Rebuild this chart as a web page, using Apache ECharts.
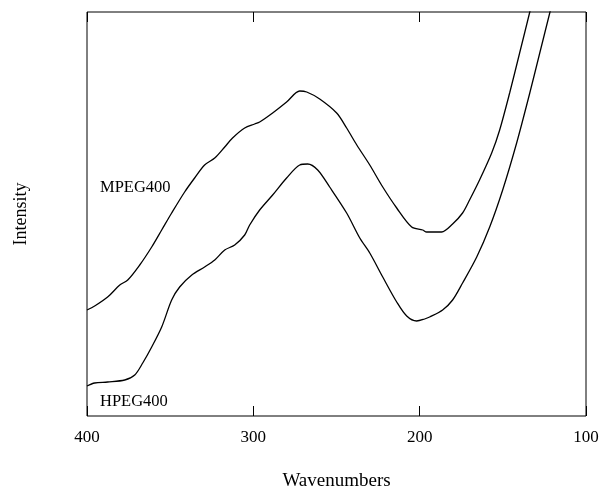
<!DOCTYPE html>
<html>
<head>
<meta charset="utf-8">
<script src="https://cdn.jsdelivr.net/npm/echarts@6/dist/echarts.min.js"></script>
<style>
  html, body { margin: 0; padding: 0; background: #fff; }
  #chart { width: 604px; height: 491px; }
</style>
</head>
<body>
<div id="chart"></div>
<script>
// wavenumber ticks (axis runs from 400 on the left to 100 on the right)
var xTicks = [400, 300, 200, 100];

// MPEG400 spectrum: [wavenumber, intensity (arbitrary units)]
var mpegWave = [400, 395.4, 387.6, 380.3, 375.5, 368.3, 361.1, 355.1, 349.1, 341.3, 335.3, 329.3, 323.2, 317.2, 312.5, 305.2, 299.2, 296.2, 288.4, 280.0, 272.1, 267.9, 260.1, 249.9, 243.9, 237.8, 230.0, 222.2, 213.8, 204.8, 198.2, 195.8, 186.8, 180.2, 174.2, 170.0, 164.0, 156.7, 151.9, 145.9, 139.9, 133.8, 127.8];
var mpegInt = [106, 110, 119, 131, 136, 151, 169, 186, 203, 224, 238, 251, 258, 269, 278, 288, 292, 294, 303, 314, 325, 324, 317, 303, 288, 271, 251, 229, 208, 189, 186, 184, 184, 192, 203, 216, 236, 263, 286, 323, 363, 404, 446];

// HPEG400 spectrum
var hpegWave = [400, 395.4, 387.6, 377.3, 371.3, 366.5, 361.1, 355.1, 349.1, 344.3, 337.0, 329.3, 323.2, 317.2, 311.2, 305.2, 302.2, 296.2, 288.4, 280.0, 272.1, 267.3, 261.3, 254.1, 243.9, 236.0, 230.0, 222.2, 213.8, 207.8, 201.8, 197.0, 194.0, 186.2, 180.2, 174.2, 165.7, 157.9, 150.1, 141.7, 133.8, 127.8, 121.8, 115.8];
var hpegInt = [30, 33, 34, 36, 41, 53, 69, 89, 116, 129, 141, 149, 156, 166, 171, 181, 191, 206, 221, 238, 251, 252, 246, 229, 203, 178, 163, 139, 114, 100, 95, 97, 99, 106, 116, 133, 159, 189, 226, 273, 323, 363, 403, 443];

function pairs(xs, ys) {
  return xs.map(function (x, i) { return [x, ys[i]]; });
}

var chart = echarts.init(document.getElementById('chart'));
var serif = '"Liberation Serif", "DejaVu Serif", serif';

var option = {
  backgroundColor: '#fff',
  animation: false,
  grid: {
    left: 87, right: 18, top: 12, bottom: 75,
    outerBoundsMode: 'none', containLabel: false,
    show: true, borderColor: '#000', borderWidth: 1
  },
  xAxis: [
    {
      type: 'value', inverse: true, min: 100, max: 400, interval: 100,
      name: 'Wavenumbers', nameLocation: 'middle', nameGap: 56,
      nameTextStyle: { color: '#000', fontFamily: serif, fontSize: 19 },
      axisLine: { show: false },
      axisTick: { inside: true, length: 10, lineStyle: { color: '#000' } },
      axisLabel: {
        margin: 13, color: '#000', fontFamily: serif, fontSize: 17,
        formatter: function (v) { return xTicks.indexOf(v) >= 0 ? String(v) : ''; }
      },
      splitLine: { show: false }
    },
    {
      type: 'value', inverse: true, min: 100, max: 400, interval: 100, position: 'top',
      axisLine: { show: false },
      axisTick: { inside: true, length: 10, lineStyle: { color: '#000' } },
      axisLabel: { show: false },
      splitLine: { show: false }
    }
  ],
  yAxis: {
    type: 'value', min: 0, max: 404,
    name: 'Intensity', nameLocation: 'middle', nameGap: 57,
    nameTextStyle: { color: '#000', fontFamily: serif, fontSize: 18 },
    axisLine: { show: false }, axisTick: { show: false },
    axisLabel: { show: false }, splitLine: { show: false }
  },
  graphic: [
    { type: 'text', left: 100, top: 179, style: { text: 'MPEG400', fill: '#000', font: '16.5px ' + serif } },
    { type: 'text', left: 100, top: 393, style: { text: 'HPEG400', fill: '#000', font: '16.5px ' + serif } }
  ],
  series: [
    {
      name: 'MPEG400', type: 'line', smooth: 0.3, symbol: 'none', clip: true,
      lineStyle: { color: '#000', width: 1.3 },
      data: pairs(mpegWave, mpegInt)
    },
    {
      name: 'HPEG400', type: 'line', smooth: 0.3, symbol: 'none', clip: true,
      lineStyle: { color: '#000', width: 1.3 },
      data: pairs(hpegWave, hpegInt)
    }
  ]
};

chart.setOption(option);
</script>
</body>
</html>
